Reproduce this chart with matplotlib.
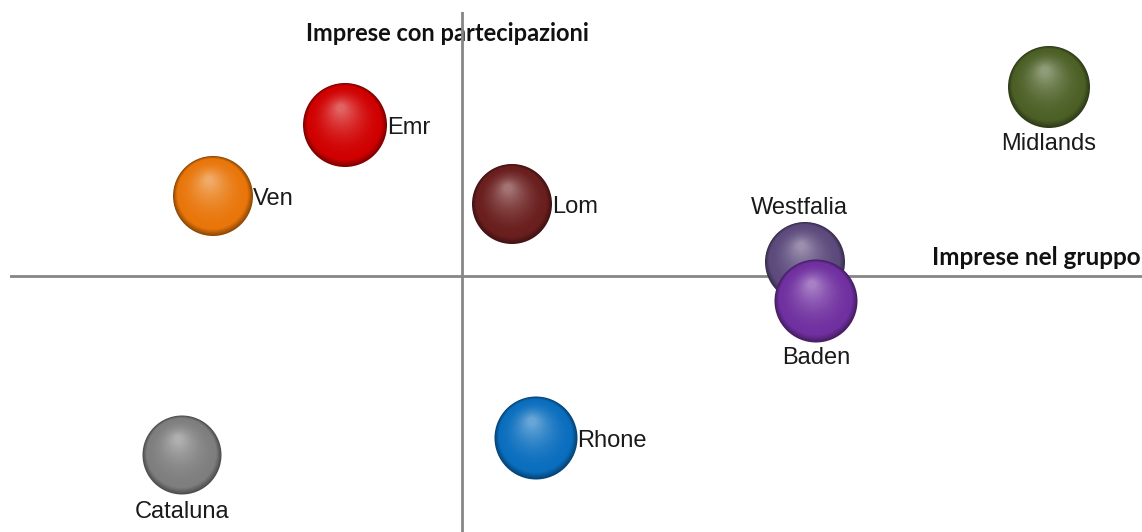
import matplotlib
matplotlib.use("Agg")
import matplotlib.pyplot as plt
import matplotlib.transforms as mtransforms
import numpy as np
from matplotlib.colors import to_rgb

# ---- data ----
regions = ["Emr", "Ven", "Lom", "Midlands", "Westfalia", "Baden", "Rhone", "Cataluna"]
x_gruppo = [-1.17, -2.49, 0.50, 5.87, 3.43, 3.54, 0.74, -2.80]
y_partecip = [1.51, 0.80, 0.72, 1.89, 0.14, -0.25, -1.62, -1.79]
bubble_size = [84, 80, 80, 82, 80, 83, 83, 79]
colors = ["#D00000", "#E8760A", "#6A1E1E", "#4C6026", "#5C4A7C", "#7030A0", "#0A6EBE", "#7E7E7E"]
label_pos = ["right", "right", "right", "below", "above", "below", "right", "below"]
x_title = "Imprese nel gruppo"
y_title = "Imprese con partecipazioni"

W, H = 1142, 532
fig = plt.figure(figsize=(W / 100, H / 100), dpi=100)
ax = fig.add_axes([10 / W, 0, 1132 / W, 520 / H])
ax.set_xlim(-4.52, 6.80)
ax.set_ylim(-2.56, 2.64)
ax.axis("off")

ax.axhline(0, color="#868686", lw=2.0, zorder=3)
ax.axvline(0, color="#868686", lw=2.0, zorder=3)

px2pt = 72 / 100


def mix(c1, c2, t):
    return tuple((1 - t) * a + t * b for a, b in zip(c1, c2))


n_layers = 40
for idx, (name, xv, yv, d, col) in enumerate(zip(regions, x_gruppo, y_partecip, bubble_size, colors)):
    base = np.array(to_rgb(col))
    dark = tuple(base * 0.62)
    hi = tuple(np.clip(base + (1 - base) * 0.38, 0, 1))
    R = d / 2.0  # pixels
    z = 5 + idx * 0.01
    for i in range(n_layers):
        t = i / (n_layers - 1)
        diam = d * (1 - 0.9 * t)
        if t < 0.12:
            c = mix(dark, tuple(base), t / 0.12)
        else:
            c = mix(tuple(base), hi, ((t - 0.12) / 0.88) ** 1.8)
        dx = -0.10 * R * t
        dy = 0.40 * R * t
        tr = mtransforms.offset_copy(ax.transData, fig=fig, x=dx, y=dy, units="dots")
        ax.scatter([xv], [yv], s=(diam * px2pt) ** 2, color=c, edgecolors="none",
                   transform=tr, zorder=z + i * 0.0001)

# labels
for name, xv, yv, d, pos in zip(regions, x_gruppo, y_partecip, bubble_size, label_pos):
    if pos == "right":
        off, ha, va = (d / 2, -3), "left", "center"
    elif pos == "below":
        off, ha, va = (0, -57), "center", "center"
    else:
        off, ha, va = (-6, 54), "center", "center"
    ax.annotate(name, (xv, yv), xytext=off, textcoords="offset pixels",
                ha=ha, va=va, fontsize=17, family="Liberation Sans",
                color="#1a1a1a", zorder=20)

ax.text(-0.145, 2.43, y_title, ha="center", va="center", fontsize=17,
        fontweight="bold", family="Lato", color="#111111", zorder=2)
ax.text(6.785, 0.19, x_title, ha="right", va="center", fontsize=17.5,
        fontweight="bold", family="Lato", color="#111111", zorder=2)

fig.savefig("out.png", dpi=100, facecolor="white")
